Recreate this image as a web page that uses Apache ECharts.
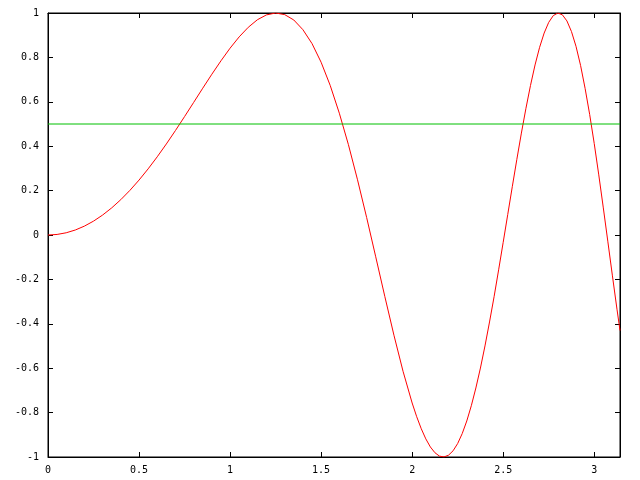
<!DOCTYPE html>
<html>
<head>
<meta charset="utf-8">
<script src="https://cdn.jsdelivr.net/npm/echarts@6/dist/echarts.min.js"></script>
<style>html,body{margin:0;padding:0;background:#fff}#c{width:640px;height:480px}</style>
</head>
<body>
<div id="c"></div>
<script>
var xValues = [0,0.05,0.1,0.15,0.2,0.25,0.3,0.35,0.4,0.45,0.5,0.55,0.6,0.65,0.7,0.75,0.8,0.85,0.9,0.95,1.0,1.05,1.1,1.15,1.2,1.25,1.3,1.35,1.4,1.45,1.5,1.55,1.6,1.65,1.7,1.75,1.8,1.85,1.9,1.95,
  2.0,2.025,2.05,2.075,2.1,2.125,2.15,2.175,2.2,2.225,2.25,2.275,2.3,2.325,2.35,2.375,2.4,2.425,2.45,2.475,2.5,2.525,2.55,2.575,2.6,2.625,2.65,2.675,2.7,2.725,2.75,2.775,2.8,2.825,2.85,2.875,2.9,2.925,2.95,2.975,3.0,3.025,3.05,3.075,3.1,3.125,3.1416];
var curveValues = [0,0.0025,0.01,0.0225,0.04,0.0625,0.0899,0.1222,0.1593,0.2011,0.2474,0.2979,0.3523,0.4101,0.4706,0.5333,0.5972,0.6613,0.7243,0.7847,0.8415,0.8925,0.9356,0.9696,0.9915,1.0,0.9927,0.9685,0.9249,0.8623,0.7781,0.6737,0.5487,0.4069,0.2486,0.0790,-0.0982,-0.2772,-0.4515,-0.6139,
  -0.7568,-0.8185,-0.8727,-0.9184,-0.9547,-0.9806,-0.9960,-0.9998,-0.9918,-0.9719,-0.9393,-0.8946,-0.8378,-0.7690,-0.6891,-0.5993,-0.4997,-0.3918,-0.2780,-0.1569,-0.0332,0.0923,0.2175,0.3405,0.4590,0.5707,0.6737,0.7660,0.8453,0.9096,0.9577,0.9882,0.9999,0.9919,0.9643,0.9165,0.8499,0.7639,0.6600,0.5432,0.4121,0.2708,0.1221,-0.0308,-0.1841,-0.3342,-0.4303];
var lineX = [0, 3.1416];
var lineValues = [0.5, 0.5];
var xTicks = ['0','0.5','1','1.5','2','2.5','3'];
var yTicks = ['-1','-0.8','-0.6','-0.4','-0.2','0','0.2','0.4','0.6','0.8','1'];

var font = {fontFamily:'DejaVu Sans Mono', fontSize:10, color:'#000'};
function fmt(list){ return function(v){ var s = String(Math.round(v*1000)/1000); return list.indexOf(s) >= 0 ? s : ''; }; }
var tick = {show:true, inside:true, length:5, lineStyle:{color:'#000', width:1}};
var line = {show:true, onZero:false, lineStyle:{color:'#000', width:1}};
var chart = echarts.init(document.getElementById('c'), null, {renderer:'canvas'});
chart.setOption({
  animation:false,
  backgroundColor:'#fff',
  grid:{left:48, right:20, top:13, bottom:23, show:true, borderColor:'#000', borderWidth:1},
  xAxis:[
    {type:'value', min:0, max:Math.PI, interval:0.5, axisLine:line, axisTick:tick, splitLine:{show:false},
     axisLabel:Object.assign({margin:8, formatter:fmt(xTicks), showMaxLabel:false}, font)},
    {type:'value', position:'top', min:0, max:Math.PI, interval:0.5, axisLine:line, axisTick:tick, splitLine:{show:false}, axisLabel:{show:false}}
  ],
  yAxis:[
    {type:'value', min:-1, max:1, interval:0.2, axisLine:line, axisTick:tick, splitLine:{show:false},
     axisLabel:Object.assign({margin:9, formatter:fmt(yTicks)}, font)},
    {type:'value', position:'right', min:-1, max:1, interval:0.2, axisLine:line, axisTick:tick, splitLine:{show:false}, axisLabel:{show:false}}
  ],
  series:[
    {type:'line', data:xValues.map(function(x,i){return [x, curveValues[i]];}), showSymbol:false, symbol:'none', lineStyle:{color:'#ff0000', width:1}, clip:true},
    {type:'line', data:lineX.map(function(x,i){return [x, lineValues[i]];}), showSymbol:false, symbol:'none', lineStyle:{color:'#00c000', width:1}, clip:true}
  ]
});
</script>
</body>
</html>
